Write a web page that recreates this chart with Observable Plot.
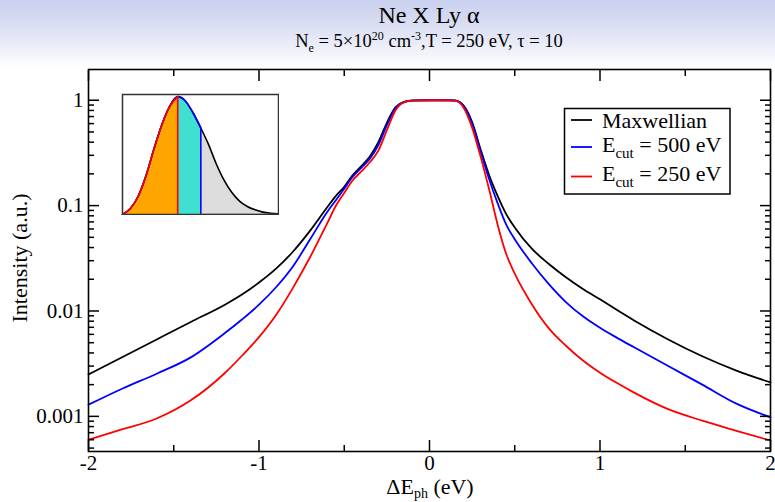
<!DOCTYPE html>
<html><head><meta charset="utf-8">
<script src="https://cdn.jsdelivr.net/npm/d3@7"></script>
<script src="https://cdn.jsdelivr.net/npm/@observablehq/plot@0.6"></script>
<style>
html,body{margin:0;padding:0;}
body{width:775px;height:502px;position:relative;overflow:hidden;
  background:linear-gradient(to bottom,#c9cfee 0px,#e2e5f5 35px,#ffffff 68px,#ffffff 100%);
  font-family:"Liberation Serif","Times New Roman",serif;color:#000;}
.abs{position:absolute;}
#title{left:88px;width:682px;top:3px;text-align:center;font-size:24px;line-height:24px;white-space:nowrap;}
#subtitle{left:88px;width:682px;top:32px;text-align:center;font-size:18.5px;line-height:18px;white-space:nowrap;}
.sm{font-size:12px;position:relative;line-height:0;}
#main{left:0;top:60px;}
#inset{left:121px;top:93px;}
#xlabel{left:330px;width:200px;top:476px;text-align:center;font-size:22px;line-height:22px;white-space:nowrap;}
#ylabel{left:-80px;width:200px;top:247px;height:22px;text-align:center;font-size:22px;line-height:22px;white-space:nowrap;transform:rotate(-90deg);}
#legend{left:0;top:0;}
</style>
</head><body>
<div id="title" class="abs">Ne X Ly α</div>
<div id="subtitle" class="abs">N<span class="sm" style="top:5px">e</span> = 5×10<span class="sm" style="top:-7px">20</span> cm<span class="sm" style="top:-7px">-3</span>,T = 250 eV, τ = 10</div>
<div id="main" class="abs"></div>
<div id="inset" class="abs"></div>
<div id="xlabel" class="abs">ΔE<span style="font-size:14px;position:relative;top:4px;line-height:0">ph</span> (eV)</div>
<div id="ylabel" class="abs">Intensity (a.u.)</div>
<svg id="legend" class="abs" width="775" height="502"></svg>
<script>
// ---- main chart data ----
const xGrid = [-2, -1.8, -1.6, -1.4, -1.2, -1.1, -1.0, -0.9, -0.8, -0.7, -0.6, -0.55, -0.5, -0.45, -0.4, -0.35, -0.3, -0.25, -0.2, -0.15, -0.1,
  0, 0.1, 0.15, 0.2, 0.25, 0.3, 0.35, 0.4, 0.45, 0.5, 0.6, 0.7, 0.8, 0.9, 1.0, 1.1, 1.2, 1.4, 1.6, 1.8, 2.0];
const yMaxwellian = [0.0025, 0.00366, 0.00537, 0.00787, 0.01148, 0.01435, 0.0186, 0.0252, 0.0367, 0.0579, 0.0966, 0.123, 0.151, 0.195, 0.237, 0.292, 0.40, 0.61, 0.855, 0.965, 0.995,
  1.0, 1.0, 0.995, 0.89, 0.62, 0.34, 0.194, 0.123, 0.083, 0.062, 0.039, 0.0279, 0.0209, 0.0162, 0.0129, 0.0102, 0.00813, 0.00537, 0.00372, 0.00272, 0.0021];
const yCut500 = [0.00129, 0.00184, 0.00254, 0.00363, 0.00617, 0.0083, 0.01148, 0.0168, 0.0266, 0.0479, 0.087, 0.112, 0.145, 0.188, 0.228, 0.278, 0.375, 0.58, 0.84, 0.96, 0.993,
  1.0, 1.0, 0.993, 0.88, 0.60, 0.325, 0.178, 0.105, 0.066, 0.048, 0.0284, 0.018, 0.01216, 0.0089, 0.00692, 0.00556, 0.00452, 0.0030, 0.0020, 0.00132, 0.00098];
const yCut250 = [0.0006, 0.000755, 0.000955, 0.00142, 0.00258, 0.00376, 0.00565, 0.00916, 0.01667, 0.0325, 0.0679, 0.099, 0.132, 0.174, 0.211, 0.258, 0.332, 0.52, 0.80, 0.955, 0.99,
  1.0, 1.0, 0.99, 0.85, 0.55, 0.29, 0.142, 0.0655, 0.0347, 0.0226, 0.0116, 0.00684, 0.00468, 0.00339, 0.0026, 0.00207, 0.00168, 0.00117, 0.00091, 0.00073, 0.00059];
const seriesNames = ["Maxwellian", "Ecut500", "Ecut250"];
const seriesColors = ["#000000", "#0000ff", "#ff0000"];
const seriesValues = [yMaxwellian, yCut500, yCut250];
const legendMain = ["Maxwellian", "E", "E"];
const legendSub = ["", "cut", "cut"];
const legendRest = ["", " = 500 eV", " = 250 eV"];

const xTicks = [-2, -1, 0, 1, 2];
const xTickLabels = ["-2", "-1", "0", "1", "2"];
const xMinorTicks = [-1.5, -0.5, 0.5, 1.5];
const yTicks = [0.001, 0.01, 0.1, 1];
const yTickLabels = ["0.001", "0.01", "0.1", "1"];
const yDomain = [4.64e-4, 1.957];
const yMinorTicks = [];
[1e-4, 1e-3, 1e-2, 1e-1, 1].forEach(d => [2,3,4,5,6,7,8,9].forEach(m => { const v = m * d; if (v > yDomain[0] && v < yDomain[1]) yMinorTicks.push(v); }));

// ---- inset data (schematic electron distribution) ----
const insetX = [0, 0.05, 0.10, 0.15, 0.20, 0.25, 0.30, 0.354, 0.40, 0.45, 0.502, 0.55, 0.60, 0.65, 0.70, 0.75, 0.80, 0.85, 0.90, 0.95, 1.0];
const insetY = [0, 0.05, 0.15, 0.32, 0.54, 0.74, 0.895, 0.982, 0.95, 0.852, 0.721, 0.588, 0.425, 0.288, 0.185, 0.112, 0.067, 0.039, 0.02, 0.0105, 0.006];
const insetCut250 = 0.354;
const insetCut500 = 0.502;

const rows = seriesNames.flatMap((s, i) => xGrid.map((x, j) => ({series: s, x, y: seriesValues[i][j]})));
const ins = insetX.map((x, i) => ({x, y: insetY[i]}));

const tick = {stroke: "black", strokeWidth: 1.5, label: null};
const noText = () => "";

const main = Plot.plot({
  width: 775, height: 442,
  marginTop: 9, marginBottom: 51, marginLeft: 88, marginRight: 5,
  style: {fontFamily: "Liberation Serif, Times New Roman, serif", fontSize: "21px", background: "transparent", color: "black"},
  x: {domain: [-2, 2]},
  y: {type: "log", domain: yDomain},
  color: {domain: seriesNames, range: seriesColors},
  marks: [
    Plot.line(rows, {x: "x", y: "y", z: "series", stroke: "series", strokeWidth: 1.8, curve: "monotone-x"}),
    Plot.axisX(xTicks, {...tick, anchor: "bottom", tickSize: -11, tickPadding: 15, tickFormat: d => xTickLabels[xTicks.indexOf(d)]}),
    Plot.axisX(xMinorTicks, {...tick, anchor: "bottom", tickSize: -6, tickFormat: noText}),
    Plot.axisX(xTicks, {...tick, anchor: "top", tickSize: -11, tickFormat: noText}),
    Plot.axisX(xMinorTicks, {...tick, anchor: "top", tickSize: -6, tickFormat: noText}),
    Plot.axisY(yTicks, {...tick, anchor: "left", tickSize: -11, tickPadding: 16, tickFormat: d => yTickLabels[yTicks.indexOf(d)]}),
    Plot.axisY(yMinorTicks, {...tick, anchor: "left", tickSize: -6, tickFormat: noText}),
    Plot.axisY(yTicks, {...tick, anchor: "right", tickSize: -11, tickFormat: noText}),
    Plot.axisY(yMinorTicks, {...tick, anchor: "right", tickSize: -6, tickFormat: noText}),
    Plot.frame({stroke: "black", strokeWidth: 1.6})
  ]
});
document.getElementById("main").appendChild(main);

const inset = Plot.plot({
  width: 158, height: 122, margin: 1,
  style: {background: "white"},
  x: {domain: [0, 1], axis: null},
  y: {domain: [0, 1], axis: null},
  marks: [
    Plot.areaY(ins.filter(d => d.x <= insetCut250), {x: "x", y: "y", fill: "#ffa500", curve: "monotone-x"}),
    Plot.areaY(ins.filter(d => d.x >= insetCut250 && d.x <= insetCut500), {x: "x", y: "y", fill: "#40e0d0", curve: "monotone-x"}),
    Plot.areaY(ins.filter(d => d.x >= insetCut500), {x: "x", y: "y", fill: "#dcdcdc", curve: "monotone-x"}),
    Plot.line(ins, {x: "x", y: "y", stroke: "black", strokeWidth: 1.6, curve: "monotone-x"}),
    Plot.line(ins.filter(d => d.x <= insetCut500), {x: "x", y: "y", stroke: "#0000ff", strokeWidth: 1.6, curve: "monotone-x"}),
    Plot.line(ins.filter(d => d.x <= insetCut250), {x: "x", y: "y", stroke: "#ff0000", strokeWidth: 1.6, curve: "monotone-x"}),
    Plot.ruleX(ins.filter(d => d.x === insetCut500), {x: "x", y1: 0, y2: "y", stroke: "#0000ff", strokeWidth: 1.6}),
    Plot.ruleX(ins.filter(d => d.x === insetCut250), {x: "x", y1: 0, y2: "y", stroke: "#ff0000", strokeWidth: 1.6}),
    Plot.ruleY([0], {x1: insetCut500, x2: 1, stroke: "#a05090", strokeWidth: 1.5}),
    Plot.frame({stroke: "#333", strokeWidth: 1.5})
  ]
});
document.getElementById("inset").appendChild(inset);

// ---- legend ----
const lg = d3.select("#legend");
lg.append("rect").attr("x", 564.5).attr("y", 108.5).attr("width", 165.5).attr("height", 85.5)
  .attr("fill", "white").attr("stroke", "black").attr("stroke-width", 1.5);
const rowLineY = [120, 147, 176.5];
const rowTextY = [128, 152, 181];
seriesNames.forEach((s, i) => {
  lg.append("line").attr("x1", 571).attr("x2", 592).attr("y1", rowLineY[i]).attr("y2", rowLineY[i])
    .attr("stroke", seriesColors[i]).attr("stroke-width", 1.8);
  const t = lg.append("text").attr("x", 602).attr("y", rowTextY[i])
    .attr("font-family", "Liberation Serif, Times New Roman, serif").attr("font-size", 22).text(legendMain[i]);
  if (legendSub[i]) {
    t.append("tspan").attr("font-size", 15).attr("dy", 6).text(legendSub[i]);
    t.append("tspan").attr("dy", -6).text(legendRest[i]);
  }
});
</script>
</body></html>
